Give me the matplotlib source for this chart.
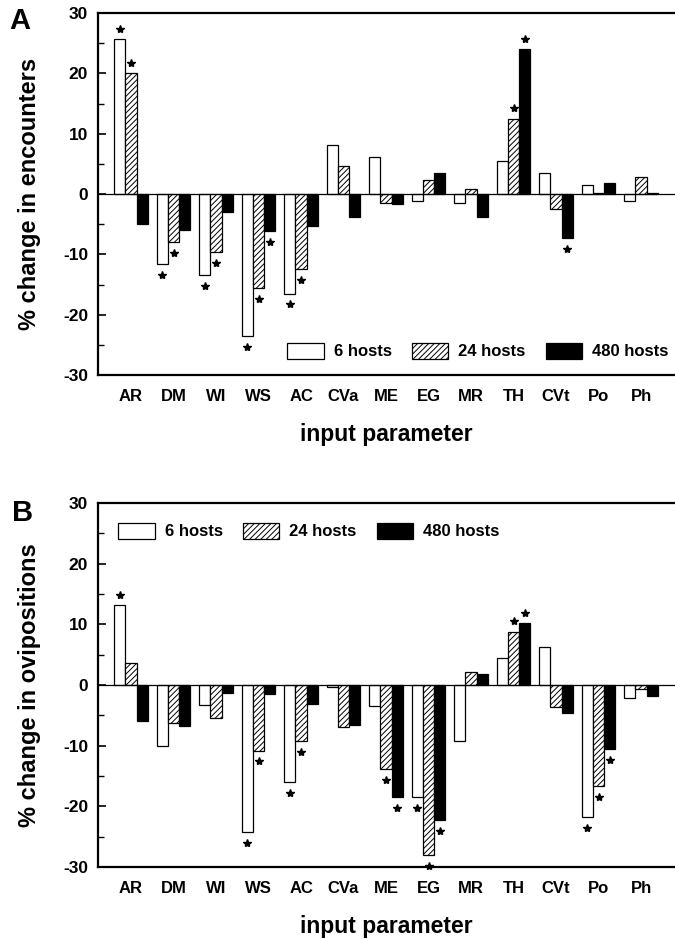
import numpy as np
import matplotlib
matplotlib.use('Agg')
import matplotlib.pyplot as plt

# data (% change)
params = ['AR', 'DM', 'WI', 'WS', 'AC', 'CVa', 'ME', 'EG', 'MR', 'TH', 'CVt', 'Po', 'Ph']
series = ['6 hosts', '24 hosts', '480 hosts']

enc_6 = [25.7, -11.6, -13.4, -23.5, -16.5, 8.2, 6.1, -1.2, -1.5, 5.5, 3.5, 1.5, -1.1]
enc_24 = [20.1, -7.9, -9.6, -15.6, -12.4, 4.7, -1.5, 2.4, 0.8, 12.5, -2.5, 0.2, 2.9]
enc_480 = [-4.9, -5.9, -3.0, -6.2, -5.3, -3.8, -1.6, 3.5, -3.8, 24.0, -7.3, 1.8, 0.2]
# significant bars (index of param, series)
enc_sig = [(0, 0), (0, 1), (1, 0), (1, 1), (2, 0), (2, 1), (3, 0), (3, 1), (3, 2),
           (4, 0), (4, 1), (9, 1), (9, 2), (10, 2)]

ovi_6 = [13.2, -10.1, -3.3, -24.2, -16.0, -0.4, -3.5, -18.4, -9.3, 4.4, 6.3, -21.8, -2.2]
ovi_24 = [3.7, -6.2, -5.4, -10.8, -9.2, -6.9, -13.8, -28.1, 2.1, 8.8, -3.7, -16.6, -0.6]
ovi_480 = [-5.9, -6.7, -1.3, -1.5, -3.1, -6.6, -18.5, -22.3, 1.8, 10.2, -4.6, -10.6, -1.8]
ovi_sig = [(0, 0), (3, 0), (3, 1), (4, 0), (4, 1), (6, 1), (6, 2), (7, 0), (7, 1), (7, 2),
           (9, 1), (9, 2), (11, 0), (11, 1), (11, 2)]

plt.rcParams['font.family'] = ['Liberation Sans', 'DejaVu Sans']
plt.rcParams['font.weight'] = 'bold'
plt.rcParams['hatch.linewidth'] = 0.7
plt.rcParams['axes.unicode_minus'] = False

fig = plt.figure(figsize=(6.75, 9.39), dpi=100)
axA = fig.add_axes([0.145, 0.6006, 0.855, 0.3855])
axB = fig.add_axes([0.145, 0.0767, 0.855, 0.3876])

styles = [dict(facecolor='white', edgecolor='black', hatch=None),
          dict(facecolor='white', edgecolor='black', hatch='//////'),
          dict(facecolor='black', edgecolor='black', hatch=None)]

def panel(ax, vals, sig, ylabel, leg_xy):
    x = np.arange(len(params))
    w = 0.26
    for i, v in enumerate(vals):
        ax.bar(x + (i - 1) * w, v, w, linewidth=0.9, label=series[i], **styles[i])
    for p, s in sig:
        v = vals[s][p]
        off = 1.7 if v > 0 else -1.8
        ax.plot(p + (s - 1) * w, v + off, marker='*', color='black', markersize=6,
                ls='none', clip_on=False)
    ax.axhline(0, color='black', lw=0.9)
    ax.set_ylim(-30, 30)
    ax.set_xlim(-0.78, 12.8)
    ax.set_yticks([-30, -20, -10, 0, 10, 20, 30])
    ax.set_yticks([-25, -15, -5, 5, 15, 25], minor=True)
    ax.tick_params(axis='y', which='major', direction='in', length=6, width=1.2, labelsize=12.5, pad=7)
    ax.tick_params(axis='y', which='minor', direction='in', length=4, width=1.0)
    ax.set_xticks(x)
    ax.set_xticklabels(params, fontsize=12, fontweight='bold')
    ax.tick_params(axis='x', length=0, pad=10)
    for sp in ['left', 'bottom', 'top']:
        ax.spines[sp].set_linewidth(1.6)
    ax.spines['right'].set_visible(False)
    ax.set_xlabel('input parameter', fontsize=16.5, fontweight='bold', labelpad=14)
    ax.set_ylabel(ylabel, fontsize=17, fontweight='bold', labelpad=16)
    ax.legend(loc='center left', bbox_to_anchor=leg_xy, ncol=3, frameon=False,
              borderpad=0, borderaxespad=0, handlelength=2.2, handleheight=1.1,
              handletextpad=0.6, columnspacing=1.2, prop={'size': 12, 'weight': 'bold'})

panel(axA, [enc_6, enc_24, enc_480], enc_sig, '% change in encounters', (0.3276, 0.066))
panel(axB, [ovi_6, ovi_24, ovi_480], ovi_sig, '% change in ovipositions', (0.035, 0.923))

fig.text(0.03, 0.978, 'A', fontsize=21, fontweight='bold', ha='center', va='center')
fig.text(0.033, 0.454, 'B', fontsize=21, fontweight='bold', ha='center', va='center')

plt.savefig('out.png', dpi=100)
